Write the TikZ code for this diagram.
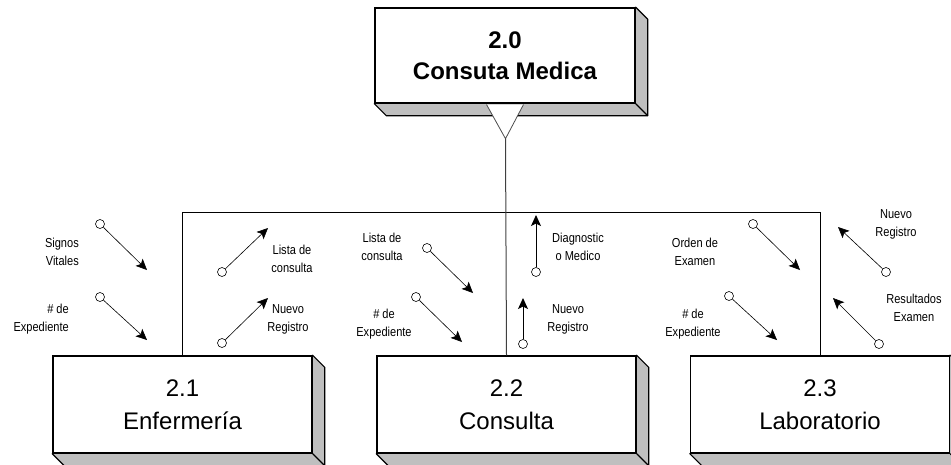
\documentclass[tikz,border=0pt]{standalone}
\usepackage{fontspec}
\setmainfont{Liberation Sans}
\newfontfamily\couplefont[FakeStretch=0.85]{Liberation Sans}
\usetikzlibrary{arrows.meta,calc,backgrounds}

\begin{document}
\begin{tikzpicture}[x=1pt,y=-1pt,
  proc/.style={draw=black, line width=1.4pt, fill=white, inner sep=0pt,
    minimum width=259pt, minimum height=97pt, align=center,
    font=\fontsize{24}{33}\selectfont},
  side/.style={fill=black!25, draw=black, line width=1.2pt, line join=round},
  bus/.style={draw=black, line width=1pt},
  cup/.style={circle, draw=black, line width=0.6pt, fill=white, inner sep=0pt, minimum size=9pt},
  flow/.style={draw=black, line width=0.6pt,
    -{Stealth[length=11pt,width=10pt,inset=2.5pt]}},
  lbl/.style={font=\couplefont\fontsize{13}{18}\selectfont, align=center, inner sep=0pt}
]
\useasboundingbox (0,0) rectangle (951,464);
\clip (0,0) rectangle (951,464);

% process boxes
\node[proc, minimum width=260pt, minimum height=95pt,
  font=\bfseries\fontsize{24}{31}\selectfont] (top) at (505,55.5) {2.0\\Consuta Medica};
\node[proc] (b1) at (182.5,404.5) {2.1\\Enfermería};
\node[proc] (b2) at (506.5,404.5) {2.2\\Consulta};
\node[proc] (b3) at (820,404.5) {2.3\\Laboratorio};

% 3D depth faces behind the boxes
\begin{scope}[on background layer]
\foreach \n in {top,b1,b2,b3}{
  \path[side] (\n.north east) -- ++(12,12) -- ($(\n.south east)+(12,12)$)
    -- ($(\n.south west)+(12,12)$) -- (\n.south west) -- cycle;
  \draw[line width=1.2pt] (\n.south east) -- ++(12,12);
}
\end{scope}

% decomposition connector
\coordinate (apex) at ($(top.south)+(0.5,35)$);
\coordinate (tl) at ($(top.south)+(-18.5,0.8)$);
\coordinate (tr) at ($(top.south)+(18.5,0.8)$);
\filldraw[fill=white, draw=black!70, line width=0.8pt] (tl) -- (apex) -- (tr);
\coordinate (bus) at (0,212);
\draw[bus] (b1.north) -- (b1.north |- bus) -- (b3.north |- bus) -- (b3.north);
\draw[bus, draw=black!75] (apex) -- (b2.north);

% data couples
\node[cup] (c1) at (100,224) {};  \coordinate (t1) at (147,270);
\node[cup] (c2) at (100,297) {};  \coordinate (t2) at (147,340);
\node[cup] (c3) at (222,272) {};  \coordinate (t3) at (268,228);
\node[cup] (c4) at (222,343) {};  \coordinate (t4) at (268,298);
\node[cup] (c5) at (427,248) {};  \coordinate (t5) at (473,293);
\node[cup] (c6) at (416,297) {};  \coordinate (t6) at (462,342);
\node[cup] (c7) at (536,272) {};  \coordinate (t7) at (536,215);
\node[cup] (c8) at (523,344) {};  \coordinate (t8) at (523,298);
\node[cup] (c9) at (753,224) {};  \coordinate (t9) at (800,270);
\node[cup] (c10) at (729,296) {}; \coordinate (t10) at (777,340);
\node[cup] (c11) at (886,272) {}; \coordinate (t11) at (838,227);
\node[cup] (c12) at (879,344) {}; \coordinate (t12) at (833,298);

\foreach \i in {1,2,3,4,5,6,9,10,11,12}{ \draw[flow] (c\i) -- (t\i); }
\foreach \i in {7,8}{ \draw[flow, line width=1pt] (c\i) -- (t\i); }

% couple labels
\node[lbl, anchor=east, align=right] (l1) at (79,252) {Signos\\Vitales};
\node[lbl, anchor=east, align=right] (l2) at (69,319) {\# de\\Expediente};
\node[lbl] (l3) at (292,259) {Lista de\\consulta};
\node[lbl] (l4) at (288,319) {Nuevo\\Registro};
\node[lbl] (l5) at (382,247) {Lista de\\consulta};
\node[lbl] (l6) at (384,324) {\# de\\Expediente};
\node[lbl] (l7) at (578,247) {Diagnostic\\o Medico};
\node[lbl] (l8) at (568,319) {Nuevo\\Registro};
\node[lbl] (l9) at (695,252) {Orden de\\Examen};
\node[lbl] (l10) at (693,324) {\# de\\Expediente};
\node[lbl] (l11) at (896,224) {Nuevo\\Registro};
\node[lbl] (l12) at (914,308) {Resultados\\Examen};
\end{tikzpicture}
\end{document}
